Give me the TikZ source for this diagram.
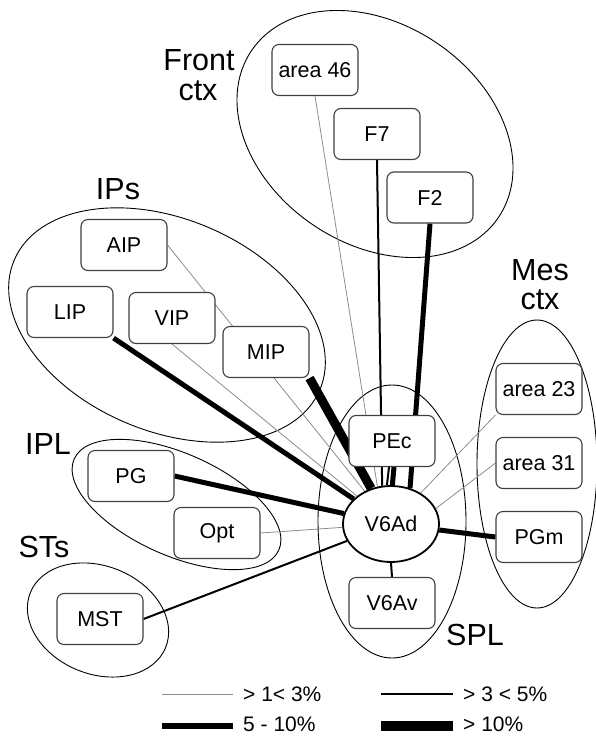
\documentclass[tikz,border=0pt]{standalone}
\usepackage{fontspec}
\setmainfont{Liberation Sans}
\usetikzlibrary{shapes.geometric}
\pgfdeclarelayer{groups}
\pgfdeclarelayer{edges}
\pgfsetlayers{groups,edges,main}
\tikzset{
  area/.style={draw=black!75, line width=1.1pt, rounded corners=7pt, fill=white,
    minimum width=86pt, minimum height=51pt, inner sep=0pt,
    font=\fontsize{21.5}{24}\selectfont},
  hub/.style={ellipse, draw=black, line width=1.8pt, fill=white,
    minimum width=96pt, minimum height=76pt, inner sep=0pt,
    font=\fontsize{21.5}{24}\selectfont},
  grp/.style={draw=black, line width=0.9pt},
  glabel/.style={anchor=base, inner sep=0pt, font=\fontsize{30.5}{30}\selectfont},
  wthin/.style={draw=black!45, line width=0.8pt},
  wmed/.style={draw=black, line width=2pt},
  wthick/.style={draw=black, line width=5pt},
  wvthick/.style={draw=black, line width=9pt},
  legtext/.style={anchor=base west, inner sep=0pt, font=\fontsize{21}{24}\selectfont}
}
\begin{document}
\begin{tikzpicture}[x=1pt,y=-1pt]
\useasboundingbox (0,0) rectangle (596,736);

% nodes
\node[area] (a46) at (315,70) {area 46};
\node[area] (F7) at (377,134) {F7};
\node[area] (F2) at (430,197.5) {F2};
\node[area] (AIP) at (124,245) {AIP};
\node[area] (LIP) at (70,312) {LIP};
\node[area] (VIP) at (172,318) {VIP};
\node[area] (MIP) at (266,352) {MIP};
\node[area] (PEc) at (392,441) {PEc};
\node[hub] (V6Ad) at (391,524) {V6Ad};
\node[area] (V6Av) at (392,603) {V6Av};
\node[area] (a23) at (539,389) {area 23};
\node[area] (a31) at (539,463) {area 31};
\node[area] (PGm) at (539,537) {PGm};
\node[area] (PG) at (131,476) {PG};
\node[area] (Opt) at (217,533) {Opt};
\node[area] (MST) at (100,619) {MST};

% group labels
\node[glabel] (lfront) at (199,70) {Front};
\node[glabel] (lfctx) at (198,100) {ctx};
\node[glabel] (lips) at (118,199) {IPs};
\node[glabel] (lmes) at (540,280) {Mes};
\node[glabel] (lmctx) at (540,309) {ctx};
\node[glabel] (lipl) at (48,454) {IPL};
\node[glabel] (lsts) at (44,557) {STs};
\node[glabel] (lspl) at (475,645) {SPL};

% groups
\begin{pgfonlayer}{groups}
\draw[grp, rotate around={-34:(375,134)}] (375,134) ellipse [x radius=149pt, y radius=110pt];
\draw[grp, rotate around={-23:(167,325)}] (167,325) ellipse [x radius=166pt, y radius=106pt];
\draw[grp, rotate around={-24:(176.5,504.5)}] (176.5,504.5) ellipse [x radius=112pt, y radius=51pt];
\draw[grp, rotate around={-22:(98,620)}] (98,620) ellipse [x radius=73pt, y radius=54pt];
\draw[grp] (392,521.5) ellipse [x radius=74pt, y radius=136.5pt];
\draw[grp] (537,464) ellipse [x radius=60pt, y radius=144pt];
\end{pgfonlayer}

% connectors
\begin{pgfonlayer}{edges}
\draw[wthin] (a46.south) -- (V6Ad.110);
\draw[wmed] (F7.south) -- (V6Ad.103);
\draw[wthick] (F2.south) -- (V6Ad.62);
\draw[wmed] ([xshift=-3pt]PEc.south) -- (V6Ad.96);
\draw[wthick] ([xshift=2pt]PEc.south) -- (V6Ad.88);
\draw[wthin] (AIP.east) -- (V6Ad);
\draw[wthick] (LIP.south east) -- (V6Ad);
\draw[wthin] (VIP.south) -- (V6Ad);
\draw[wvthick] (MIP.south east) -- (V6Ad);
\draw[wthick] (PG.east) -- (V6Ad);
\draw[wthin] (Opt.east) -- (V6Ad);
\draw[wmed] (MST.east) -- (V6Ad);
\draw[wthin] (a23.south west) -- (V6Ad);
\draw[wthin] (a31.west) -- (V6Ad.19);
\draw[wthick] (PGm.west) -- (V6Ad);
\draw[wmed] (V6Av.north) -- (V6Ad.south);
\end{pgfonlayer}

% legend
\draw[wthin] (162,694) -- (233,694);
\node[legtext] (l1) at (243,701) {> 1< 3\%};
\draw[wmed] (381,694) -- (453,694);
\node[legtext] (l2) at (463,701) {> 3 < 5\%};
\draw[line width=5.3pt] (162,726) -- (233,726);
\node[legtext] (l3) at (243,731) {5 - 10\%};
\draw[line width=10.5pt] (381,726) -- (453,726);
\node[legtext] (l4) at (463,731) {> 10\%};
\end{tikzpicture}
\end{document}
